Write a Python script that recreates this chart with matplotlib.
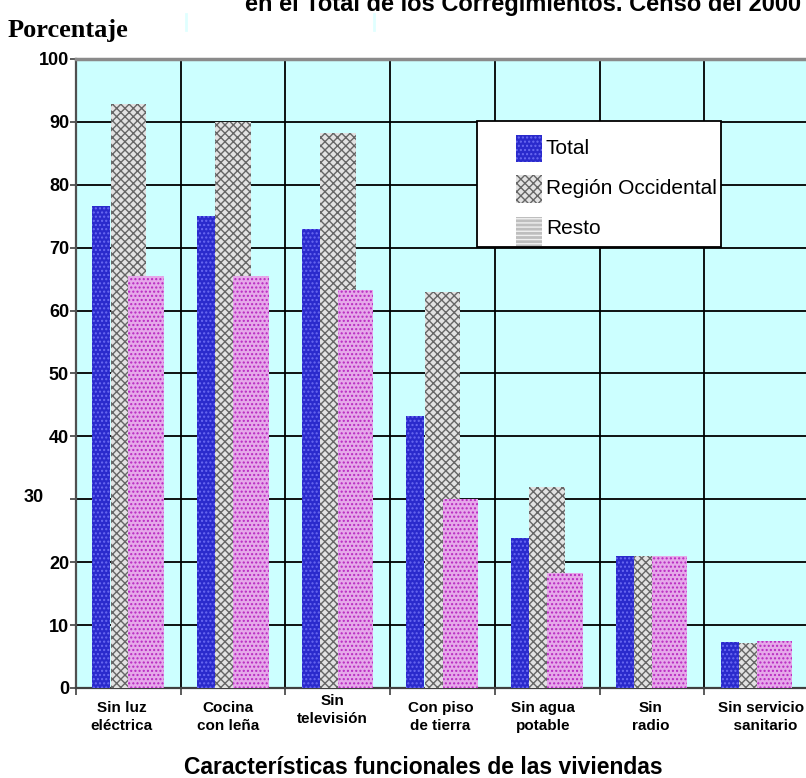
import numpy as np
import matplotlib
matplotlib.use("Agg")
import matplotlib.pyplot as plt
from matplotlib.patches import Rectangle
from matplotlib.lines import Line2D

plt.rcParams['font.family'] = ['Liberation Sans', 'DejaVu Sans']
plt.rcParams['hatch.linewidth'] = 1.0

# data
categorias = ["Sin luz\neléctrica", "Cocina\ncon leña", "Sin\ntelevisión", "Con piso\nde tierra",
              "Sin agua\npotable", "Sin\nradio", "Sin servicio\n  sanitario"]
total = [76.6, 75.0, 73.0, 43.2, 23.8, 21.0, 7.3]
region_occidental = [92.9, 90.0, 88.2, 63.0, 32.0, 21.0, 7.1]
resto = [65.5, 65.5, 63.2, 30.0, 18.3, 21.0, 7.5]
series = ["Total", "Región Occidental", "Resto"]
yticks = [0, 10, 20, 30, 40, 50, 60, 70, 80, 90, 100]

W, H = 806, 778
def fx(x):
    return x / W
def fy(y):
    return 1 - y / H

fig = plt.figure(figsize=(W / 100, H / 100), dpi=100)
ax = fig.add_axes([fx(76), fy(688), (809 - 76) / W, (688 - 59) / H])
ax.set_facecolor("#CCFFFF")

x = np.arange(len(categorias))
ax.bar(x - 0.258, total, width=0.172, color="#2A2ACC", edgecolor="#6A6AF2",
       hatch="....", linewidth=0, zorder=3)
ax.bar(x, region_occidental, width=0.339, color="#E2E2E2", edgecolor="#666666",
       hatch="xxxx", linewidth=0, zorder=3)
ax.bar(x + 0.17, resto, width=0.339, color="#E6A8EA", edgecolor="#B828C0",
       hatch="....", linewidth=0, zorder=4)

ax.set_xlim(-0.5, 6.5)
ax.set_ylim(0, 100)

# grid
for v in yticks[1:-1]:
    ax.axhline(v, color="black", linewidth=1.3, zorder=1)
for b in np.arange(0.5, 6.5, 1):
    ax.axvline(b, color="black", linewidth=1.3, zorder=1)

ax.spines["right"].set_visible(False)
ax.spines["top"].set_color("#8A8A8A")
ax.spines["top"].set_linewidth(2.5)
ax.spines["left"].set_color("#505050")
ax.spines["left"].set_linewidth(1.6)
ax.spines["bottom"].set_color("#404040")
ax.spines["bottom"].set_linewidth(1.6)

ax.set_yticks(yticks)
ax.set_yticklabels([str(v) if v != 30 else "" for v in yticks],
                   fontsize=13, fontweight="bold")
ax.tick_params(axis="y", length=4, width=1.2, color="#404040", pad=1)
fig.text(fx(34), fy(498), "30", fontsize=13, fontweight="bold", ha="center", va="center")

ax.set_xticks(np.arange(-0.5, 7, 1))
ax.set_xticklabels([])
ax.tick_params(axis="x", length=5, width=1.2, color="#404040")

offs = [-7, -5, -5, -2, -4, -1, 5]
ylab = [717, 717, 710, 717, 717, 717, 717]
for i, lab in enumerate(categorias):
    px = 76 + (i + 0.5) * 104.7 + offs[i]
    fig.text(fx(px), fy(ylab[i]), lab, fontsize=11, fontweight="bold",
             ha="center", va="center", linespacing=1.3)

fig.text(fx(423), fy(768), "Características funcionales de las viviendas",
         fontsize=16.5, fontweight="bold", ha="center", va="center")
fig.text(fx(8), fy(31), "Porcentaje", family=["Liberation Serif", "DejaVu Serif"],
         fontsize=19, fontweight="bold", ha="left", va="center")
# title is cut off at the top edge in the reference
fig.text(fx(523), fy(11), "en el Total de los Corregimientos. Censo del 2000",
         fontsize=17, fontweight="bold", ha="center", va="baseline")

# faint artifacts near the top
for xa in [186, 374]:
    fig.add_artist(Line2D([fx(xa), fx(xa)], [fy(14), fy(30)], color="#E0FFFF", linewidth=2))

# legend drawn by hand
fig.add_artist(Rectangle((fx(477), fy(247)), (721 - 477) / W, (247 - 121) / H,
                         transform=fig.transFigure, facecolor="white", edgecolor="black",
                         linewidth=1.3, zorder=5))
swatches = [
    dict(y0=135, y1=162, fc="#2A2ACC", ec="#6A6AF2", hatch="...."),
    dict(y0=175, y1=203, fc="#E2E2E2", ec="#666666", hatch="xxxx"),
    dict(y0=217, y1=246, fc="#BEBEBE", ec="#F0F0F0", hatch="----"),
]
ytxt = [148, 189, 229]
for sw, name, yt in zip(swatches, series, ytxt):
    fig.add_artist(Rectangle((fx(516), fy(sw["y1"])), 26 / W, (sw["y1"] - sw["y0"]) / H,
                             transform=fig.transFigure, facecolor=sw["fc"], edgecolor=sw["ec"],
                             hatch=sw["hatch"], linewidth=0, zorder=6))
    fig.text(fx(546), fy(yt), name, fontsize=15, ha="left", va="center", zorder=7)

fig.savefig("out.png", dpi=100)
